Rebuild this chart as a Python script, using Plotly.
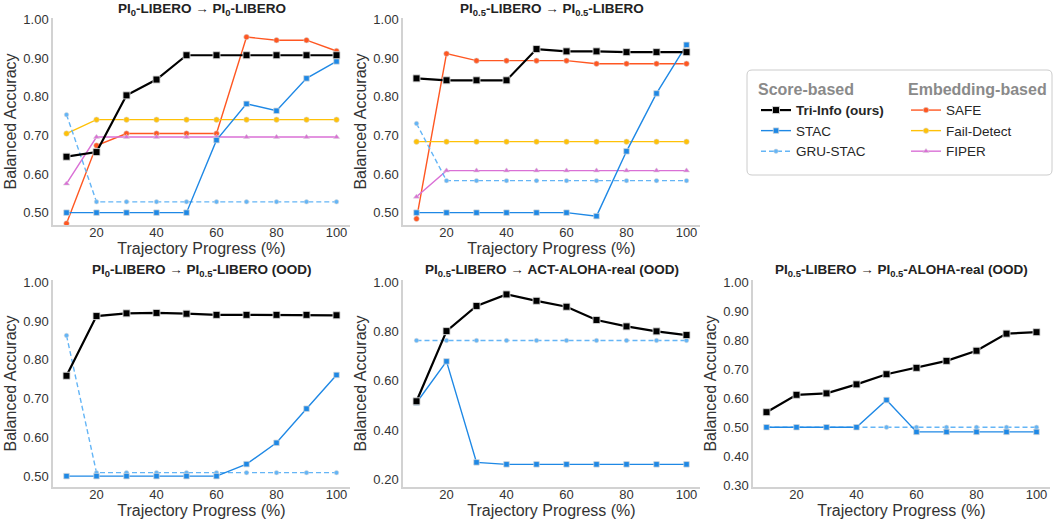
import plotly.graph_objects as go

# ---------------- data ----------------
progress = [10, 20, 30, 40, 50, 60, 70, 80, 90, 100]

# Panel 1: PI0-LIBERO -> PI0-LIBERO
p1_tri = [0.645, 0.657, 0.804, 0.845, 0.908, 0.908, 0.908, 0.908, 0.908, 0.908]
p1_stac = [0.500, 0.500, 0.500, 0.500, 0.500, 0.688, 0.782, 0.764, 0.848, 0.892]
p1_gru = [0.754, 0.528, 0.528, 0.528, 0.528, 0.528, 0.528, 0.528, 0.528, 0.528]
p1_safe = [0.472, 0.674, 0.705, 0.705, 0.705, 0.705, 0.955, 0.947, 0.947, 0.919]
p1_fd = [0.705, 0.741, 0.741, 0.741, 0.741, 0.741, 0.741, 0.741, 0.741, 0.741]
p1_fiper = [0.575, 0.696, 0.696, 0.696, 0.696, 0.696, 0.696, 0.696, 0.696, 0.696]

# Panel 2: PI0.5-LIBERO -> PI0.5-LIBERO
p2_tri = [0.848, 0.843, 0.843, 0.843, 0.924, 0.918, 0.918, 0.916, 0.916, 0.916]
p2_stac = [0.500, 0.500, 0.500, 0.500, 0.500, 0.500, 0.491, 0.659, 0.809, 0.935]
p2_gru = [0.731, 0.583, 0.583, 0.583, 0.583, 0.583, 0.583, 0.583, 0.583, 0.583]
p2_safe = [0.484, 0.912, 0.894, 0.894, 0.894, 0.894, 0.886, 0.886, 0.886, 0.886]
p2_fd = [0.684, 0.684, 0.684, 0.684, 0.684, 0.684, 0.684, 0.684, 0.684, 0.684]
p2_fiper = [0.541, 0.609, 0.609, 0.609, 0.609, 0.609, 0.609, 0.609, 0.609, 0.609]

# Panel 3: PI0-LIBERO -> PI0.5-LIBERO (OOD)
p3_tri = [0.759, 0.913, 0.920, 0.921, 0.919, 0.916, 0.916, 0.916, 0.916, 0.915]
p3_stac = [0.500, 0.500, 0.500, 0.500, 0.500, 0.500, 0.531, 0.586, 0.674, 0.761]
p3_gru = [0.863, 0.509, 0.509, 0.509, 0.509, 0.509, 0.509, 0.509, 0.509, 0.509]

# Panel 4: PI0.5-LIBERO -> ACT-ALOHA-real (OOD)
p4_tri = [0.517, 0.802, 0.904, 0.951, 0.925, 0.901, 0.847, 0.821, 0.801, 0.786]
p4_stac = [0.511, 0.679, 0.269, 0.261, 0.261, 0.261, 0.261, 0.261, 0.261, 0.261]
p4_gru = [0.764, 0.764, 0.764, 0.764, 0.764, 0.764, 0.764, 0.764, 0.764, 0.764]

# Panel 5: PI0.5-LIBERO -> PI0.5-ALOHA-real (OOD)
p5_tri = [0.552, 0.612, 0.617, 0.648, 0.683, 0.705, 0.729, 0.764, 0.823, 0.828]
p5_stac = [0.500, 0.500, 0.500, 0.500, 0.594, 0.484, 0.484, 0.484, 0.484, 0.484]
p5_gru = [0.500, 0.500, 0.500, 0.500, 0.500, 0.500, 0.500, 0.500, 0.500, 0.500]

panel_titles = [
    "<b>PI<sub>0</sub>-LIBERO</b> → <b>PI<sub>0</sub>-LIBERO</b>",
    "<b>PI<sub>0.5</sub>-LIBERO</b> → <b>PI<sub>0.5</sub>-LIBERO</b>",
    "<b>PI<sub>0</sub>-LIBERO</b> → <b>PI<sub>0.5</sub>-LIBERO (OOD)</b>",
    "<b>PI<sub>0.5</sub>-LIBERO</b> → <b>ACT-ALOHA-real (OOD)</b>",
    "<b>PI<sub>0.5</sub>-LIBERO</b> → <b>PI<sub>0.5</sub>-ALOHA-real (OOD)</b>",
]
x_ticks = [20, 40, 60, 80, 100]
y_ticks_a = [0.5, 0.6, 0.7, 0.8, 0.9, 1.0]
y_ticks_b = [0.2, 0.4, 0.6, 0.8, 1.0]
y_ticks_c = [0.3, 0.4, 0.5, 0.6, 0.7, 0.8, 0.9, 1.0]

# ---------------- styles ----------------
FONT = "Liberation Sans, Arial, Helvetica, sans-serif"
TXT = "#333333"
SPINE = "#d2d2d2"
C_TRI = "#000000"
C_STAC = "#1E88E5"
C_GRU = "#64B5F6"
C_SAFE = "#FF5722"
C_FD = "#FFC107"
C_FIPER = "#DA70D6"
EDGE = "rgba(215,215,215,0.9)"

W, H = 1053, 525
ML, MR, MT, MB = 53, 3, 18, 38
PW = W - ML - MR
PH = H - MT - MB

def px_x(a, b):
    return [(a - ML) / PW, (b - ML) / PW]

def px_y(top, bottom):
    return [(H - MB - bottom) / PH, (H - MB - top) / PH]

col_px = [(53, 350), (403, 700), (753, 1050)]
row_px = [(18, 225), (280, 487)]

# panel -> (row, col, yrange, yticks)
panels = [
    (0, 0, [0.468, 1.0045], y_ticks_a),
    (0, 1, [0.468, 1.0045], y_ticks_a),
    (1, 0, [0.472, 1.006], y_ticks_a),
    (1, 1, [0.169, 1.0095], y_ticks_b),
    (1, 2, [0.294, 1.008], y_ticks_c),
]

series = [
    [("SAFE", p1_safe), ("Fail-Detect", p1_fd), ("FIPER", p1_fiper),
     ("GRU-STAC", p1_gru), ("STAC", p1_stac), ("Tri-Info (ours)", p1_tri)],
    [("SAFE", p2_safe), ("Fail-Detect", p2_fd), ("FIPER", p2_fiper),
     ("GRU-STAC", p2_gru), ("STAC", p2_stac), ("Tri-Info (ours)", p2_tri)],
    [("GRU-STAC", p3_gru), ("STAC", p3_stac), ("Tri-Info (ours)", p3_tri)],
    [("GRU-STAC", p4_gru), ("STAC", p4_stac), ("Tri-Info (ours)", p4_tri)],
    [("GRU-STAC", p5_gru), ("STAC", p5_stac), ("Tri-Info (ours)", p5_tri)],
]

styles = {
    "Tri-Info (ours)": dict(line=dict(color=C_TRI, width=2.2),
                            marker=dict(symbol="square", size=7, color=C_TRI, line=dict(color=EDGE, width=1)),
                            legend="legend", rank=1, label="<b>Tri-Info (ours)</b>"),
    "STAC": dict(line=dict(color=C_STAC, width=1.4),
                 marker=dict(symbol="square", size=5.5, color=C_STAC, line=dict(color=EDGE, width=0.8)),
                 legend="legend", rank=2, label="STAC"),
    "GRU-STAC": dict(line=dict(color=C_GRU, width=1.4, dash="5px,3px"),
                     marker=dict(symbol="circle", size=4.5, color=C_GRU, line=dict(color=EDGE, width=0.6)),
                     legend="legend", rank=3, label="GRU-STAC"),
    "SAFE": dict(line=dict(color=C_SAFE, width=1.4),
                 marker=dict(symbol="circle", size=5.5, color=C_SAFE, line=dict(color=EDGE, width=0.6)),
                 legend="legend2", rank=4, label="SAFE"),
    "Fail-Detect": dict(line=dict(color=C_FD, width=1.4),
                        marker=dict(symbol="circle", size=5.5, color=C_FD, line=dict(color=EDGE, width=0.6)),
                        legend="legend2", rank=5, label="Fail-Detect"),
    "FIPER": dict(line=dict(color=C_FIPER, width=1.4),
                  marker=dict(symbol="triangle-up", size=5.5, color=C_FIPER, line=dict(color=EDGE, width=0.6)),
                  legend="legend2", rank=6, label="FIPER"),
}

fig = go.Figure()
shown = set()
for i, (row, col, yr, yt) in enumerate(panels):
    sfx = "" if i == 0 else str(i + 1)
    for name, ys in series[i]:
        st = styles[name]
        fig.add_trace(go.Scatter(
            x=progress, y=ys, mode="lines+markers", name=st["label"],
            line=st["line"], marker=st["marker"],
            xaxis="x" + sfx, yaxis="y" + sfx,
            legend=st["legend"], legendrank=st["rank"],
            showlegend=name not in shown, hoverinfo="skip",
        ))
        shown.add(name)
    ax = dict(
        showgrid=False, zeroline=False, showline=True, linecolor=SPINE, linewidth=1.5,
        ticks="", tickfont=dict(family=FONT, size=13, color=TXT),
    )
    fig.layout["xaxis" + sfx] = dict(
        ax, domain=px_x(*col_px[col]), range=[5.5, 104.5], tickvals=x_ticks,
        anchor="y" + sfx, ticklabelstandoff=-5,
        title=dict(text="Trajectory Progress (%)", font=dict(family=FONT, size=16, color=TXT), standoff=1),
    )
    fig.layout["yaxis" + sfx] = dict(
        ax, domain=px_y(*row_px[row]), range=yr, tickvals=yt, tickformat=".2f",
        anchor="x" + sfx,
        title=dict(text="Balanced Accuracy", font=dict(family=FONT, size=16, color=TXT), standoff=3),
    )
    cx = (sum(col_px[col]) / 2 - ML) / PW
    ty = 9 if row == 0 else 270
    fig.add_annotation(
        text=panel_titles[i], x=cx, y=(H - MB - ty) / PH, xref="paper", yref="paper",
        xanchor="center", yanchor="middle", showarrow=False,
        font=dict(family=FONT, size=13.5, color="#222222"),
    )

# legend frame
bx0, bx1, by0, by1, r = 747, 1052, 70, 175, 5
def fx(p):
    return (p - ML) / PW
def fy(p):
    return (H - MB - p) / PH
path = (f"M {fx(bx0 + r)},{fy(by0)} L {fx(bx1 - r)},{fy(by0)} Q {fx(bx1)},{fy(by0)} {fx(bx1)},{fy(by0 + r)} "
        f"L {fx(bx1)},{fy(by1 - r)} Q {fx(bx1)},{fy(by1)} {fx(bx1 - r)},{fy(by1)} "
        f"L {fx(bx0 + r)},{fy(by1)} Q {fx(bx0)},{fy(by1)} {fx(bx0)},{fy(by1 - r)} "
        f"L {fx(bx0)},{fy(by0 + r)} Q {fx(bx0)},{fy(by0)} {fx(bx0 + r)},{fy(by0)} Z")
fig.add_shape(type="path", path=path, xref="paper", yref="paper",
              line=dict(color="#cccccc", width=1), fillcolor="rgba(0,0,0,0)", layer="below")

leg_common = dict(
    bgcolor="rgba(0,0,0,0)", borderwidth=0, xanchor="left", yanchor="top",
    font=dict(family=FONT, size=13.5, color="#262626"), traceorder="normal",
    tracegroupgap=0,
)
fig.update_layout(
    width=W, height=H,
    margin=dict(l=ML, r=MR, t=MT, b=MB),
    paper_bgcolor="white", plot_bgcolor="white",
    font=dict(family=FONT, color=TXT),
    legend=dict(leg_common, x=fx(756), y=fy(74),
                title=dict(text="<b>Score-based</b>", font=dict(family=FONT, size=16, color="#8a8a8a"))),
    legend2=dict(leg_common, x=fx(906), y=fy(74),
                 title=dict(text="<b>Embedding-based</b>", font=dict(family=FONT, size=16, color="#8a8a8a"))),
)

fig.write_html("out.html")
